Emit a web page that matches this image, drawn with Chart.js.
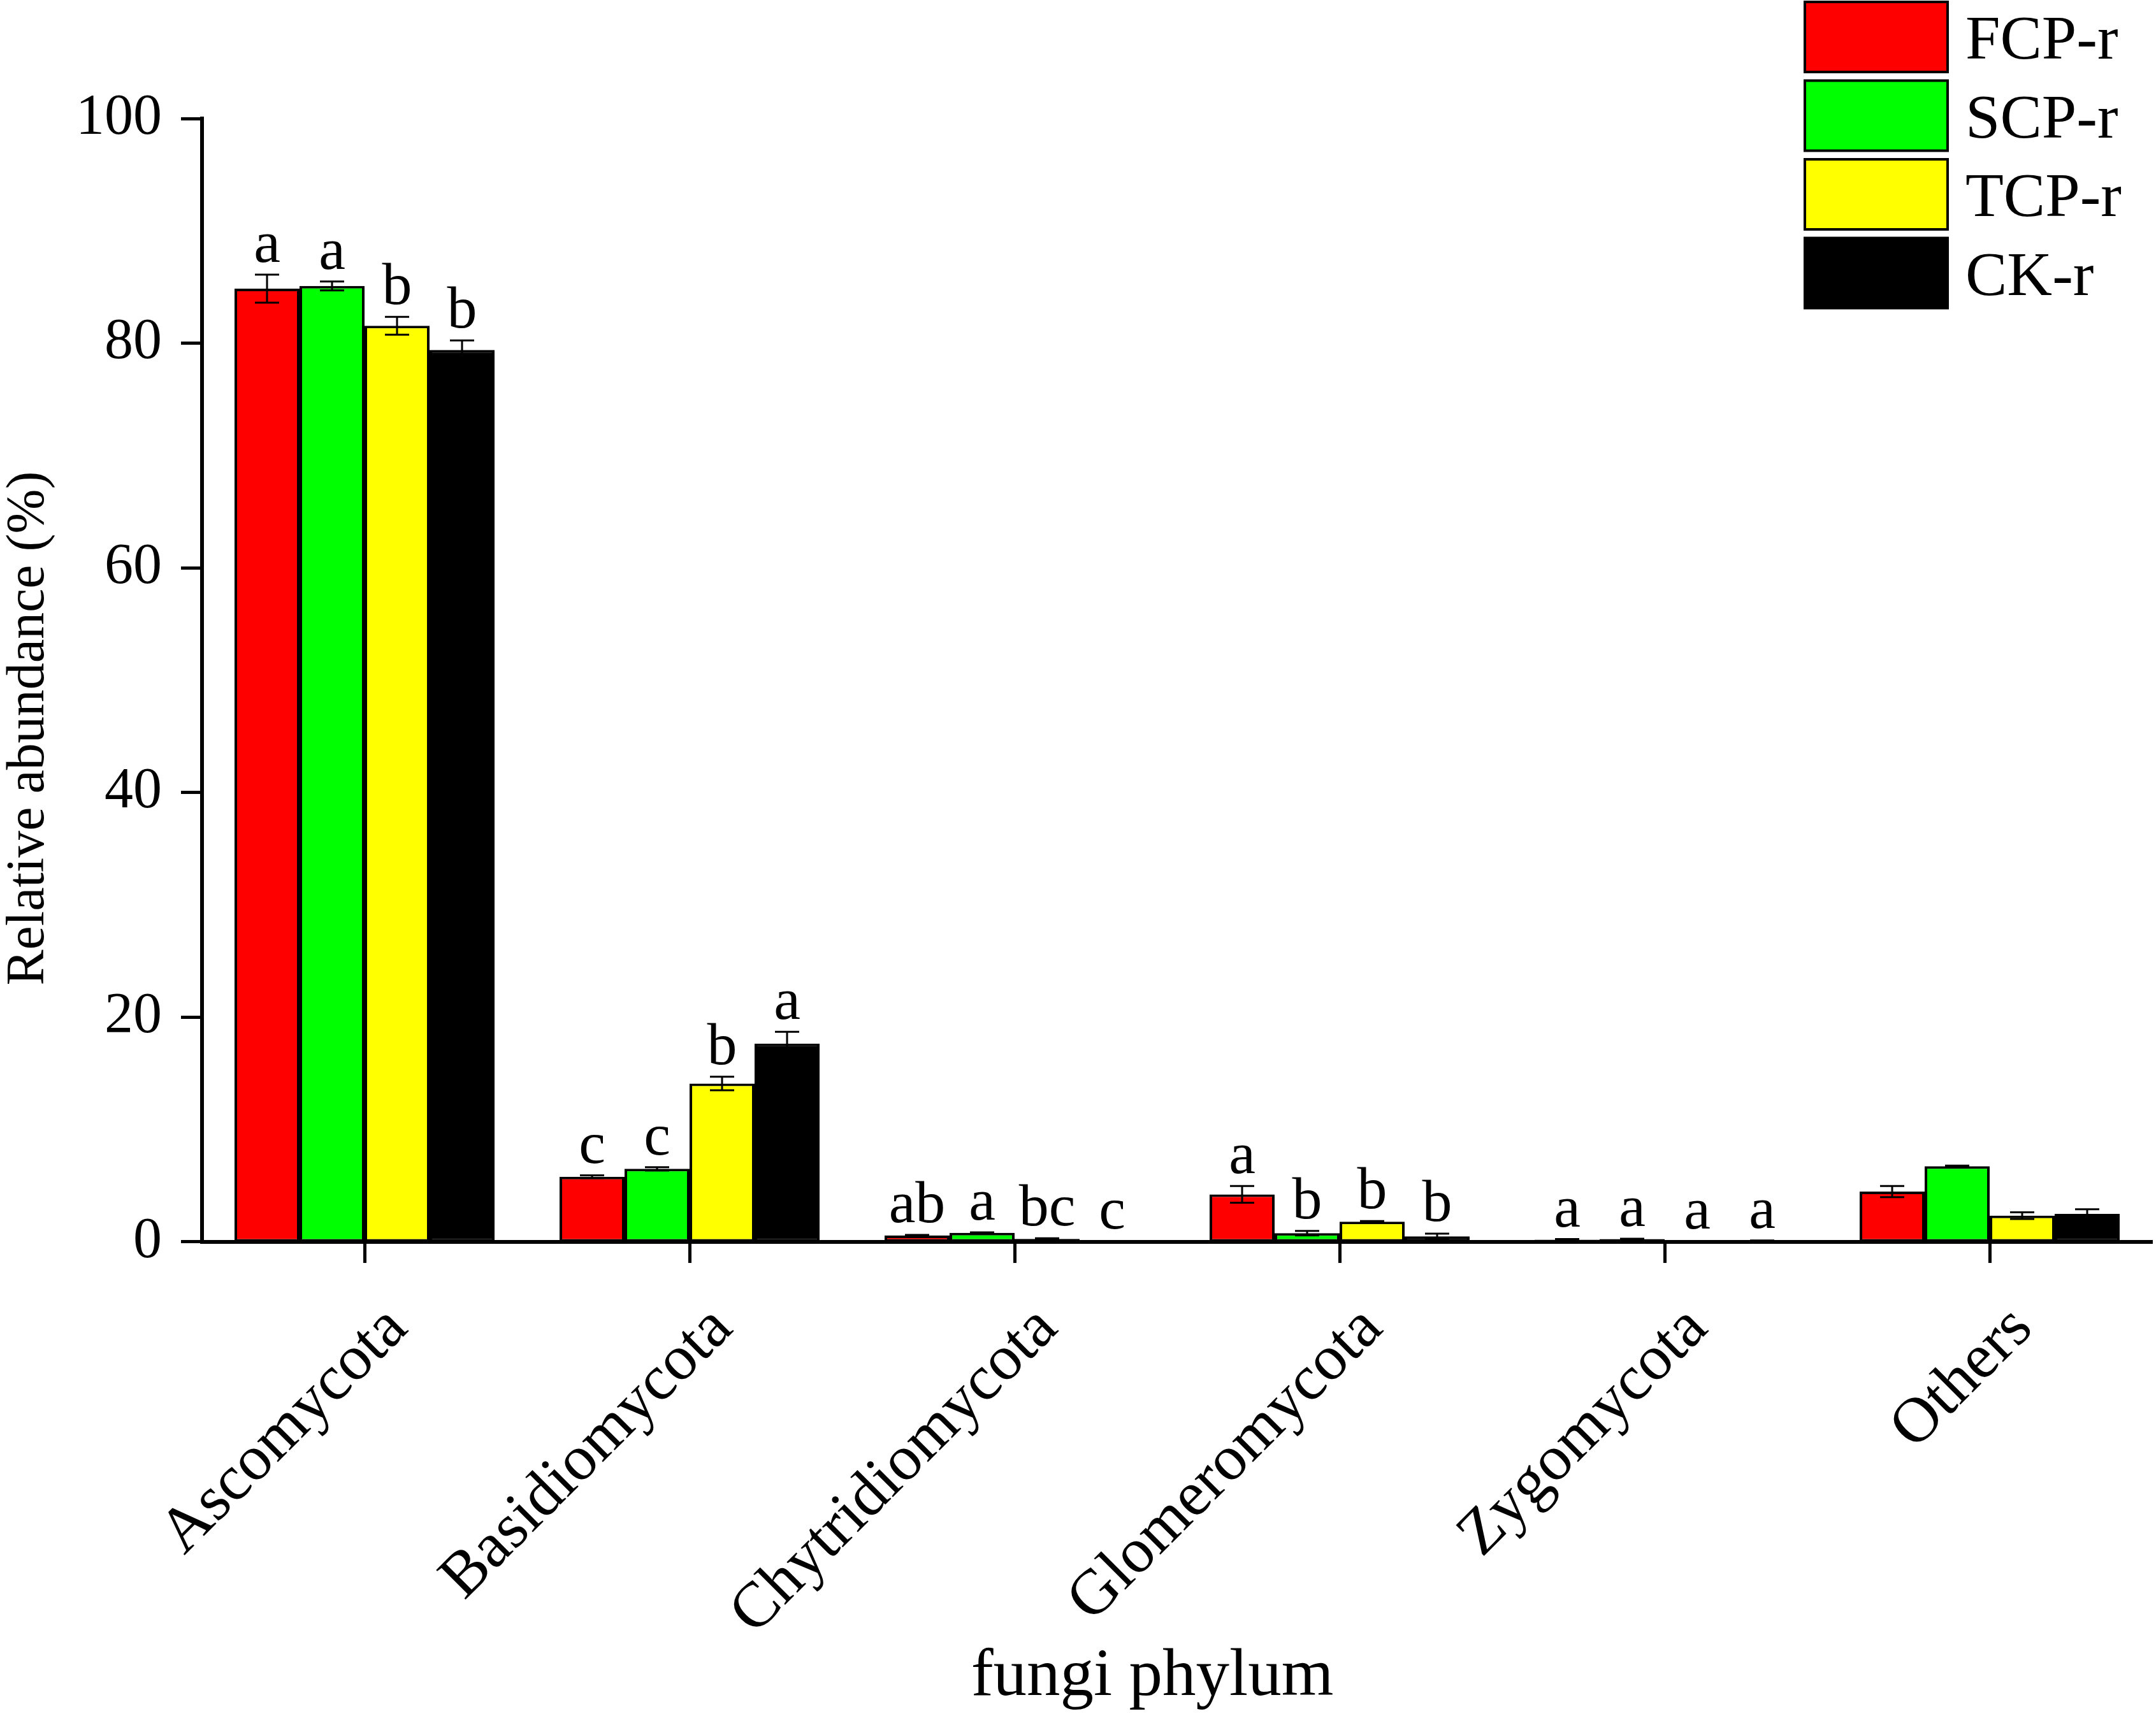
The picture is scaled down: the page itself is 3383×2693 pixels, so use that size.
<!DOCTYPE html>
<html lang="en">
  <head>
    <meta charset="UTF-8" />
    <title>Fungi phylum relative abundance</title>
    <script src="https://cdn.jsdelivr.net/npm/chart.js"></script>
    <style>
      html, body {
        margin: 0;
        padding: 0;
        background: #ffffff;
        overflow: hidden;
      }
      canvas {
        display: block;
      }
    </style>
  </head>
  <body>
    <canvas id="myChart" width="3383" height="2693"></canvas>

    <script>
      // categories and series
      var phyla = ["Ascomycota", "Basidiomycota", "Chytridiomycota", "Glomeromycota", "Zygomycota", "Others"];
      var seriesNames = ["FCP-r", "SCP-r", "TCP-r", "CK-r"];
      var seriesColors = ["#ff0000", "#00ff00", "#ffff00", "#000000"];

      var fcpValues = [84.85, 5.8, 0.57, 4.23, 0.2, 4.48];
      var scpValues = [85.1, 6.5, 0.8, 0.78, 0.25, 6.74];
      var tcpValues = [81.55, 14.1, 0.27, 1.8, 0.03, 2.34];
      var ckValues = [79.4, 17.65, 0.05, 0.5, 0.1, 2.49];

      var fcpErrors = [1.25, 0.12, 0.05, 0.75, 0.05, 0.5];
      var scpErrors = [0.4, 0.15, 0.05, 0.2, 0.03, 0.05];
      var tcpErrors = [0.8, 0.6, 0.05, 0.05, 0.02, 0.3];
      var ckErrors = [0.85, 1.05, 0.03, 0.23, 0.03, 0.42];

      // significance letters (none shown for Others)
      var fcpLetters = ["a", "c", "ab", "a", "a", ""];
      var scpLetters = ["a", "c", "a", "b", "a", ""];
      var tcpLetters = ["b", "b", "bc", "b", "a", ""];
      var ckLetters = ["b", "a", "c", "b", "a", ""];

      var yTicks = [0, 20, 40, 60, 80, 100];
      var xTitle = "fungi phylum";
      var yTitle = "Relative abundance (%)";

      var allValues = [fcpValues, scpValues, tcpValues, ckValues];
      var allErrors = [fcpErrors, scpErrors, tcpErrors, ckErrors];
      var allLetters = [fcpLetters, scpLetters, tcpLetters, ckLetters];

      var serif = '"Liberation Serif", "Times New Roman", serif';

      var datasets = [];
      for (var i = 0; i < seriesNames.length; i++) {
        datasets.push({
          label: seriesNames[i],
          data: allValues[i],
          errors: allErrors[i],
          letters: allLetters[i],
          backgroundColor: seriesColors[i],
          borderColor: "#000000",
          borderWidth: 4,
          borderSkipped: false
        });
      }

      // error bars plus letters above them
      var errorBarPlugin = {
        id: "errorBars",
        afterDatasetsDraw: function(chart) {
          var ctx = chart.ctx;
          var yScale = chart.scales.y;
          ctx.save();
          chart.data.datasets.forEach(function(ds, di) {
            var meta = chart.getDatasetMeta(di);
            meta.data.forEach(function(bar, j) {
              var v = ds.data[j];
              var e = ds.errors[j];
              var top = yScale.getPixelForValue(v + e);
              var bottom = yScale.getPixelForValue(Math.max(v - e, 0));
              ctx.strokeStyle = "#000000";
              ctx.lineWidth = 3;
              ctx.beginPath();
              ctx.moveTo(bar.x, top);
              ctx.lineTo(bar.x, bottom);
              ctx.moveTo(bar.x - 19, top);
              ctx.lineTo(bar.x + 19, top);
              ctx.moveTo(bar.x - 19, bottom);
              ctx.lineTo(bar.x + 19, bottom);
              ctx.stroke();

              if (ds.letters[j]) {
                ctx.fillStyle = "#000000";
                ctx.font = "94px " + serif;
                ctx.textAlign = "center";
                ctx.textBaseline = "alphabetic";
                ctx.fillText(ds.letters[j], bar.x, top - 20);
              }
            });
          });
          ctx.restore();
        }
      };

      // boxed legend in the top right corner, axis titles placed like the original
      var legendPlugin = {
        id: "boxLegend",
        afterDraw: function(chart) {
          var ctx = chart.ctx;
          ctx.save();
          chart.data.datasets.forEach(function(ds, i) {
            var bx = 2832;
            var by = 3 + i * 123.5;
            ctx.fillStyle = ds.backgroundColor;
            ctx.fillRect(bx, by, 224, 110);
            ctx.strokeStyle = "#000000";
            ctx.lineWidth = 4;
            ctx.strokeRect(bx, by, 224, 110);
            ctx.fillStyle = "#000000";
            ctx.font = "98px " + serif;
            ctx.textAlign = "left";
            ctx.textBaseline = "alphabetic";
            ctx.fillText(ds.label, 3084, by + 89);
          });

          ctx.fillStyle = "#000000";
          ctx.textAlign = "center";
          ctx.textBaseline = "alphabetic";
          ctx.font = "105px " + serif;
          ctx.fillText(xTitle, 1808, 2660);

          ctx.translate(68, 1143);
          ctx.rotate(-Math.PI / 2);
          ctx.font = "84px " + serif;
          ctx.fillText(yTitle, 0, 0);
          ctx.restore();
        }
      };

      var ctx = document.getElementById("myChart").getContext("2d");
      new Chart(ctx, {
        type: "bar",
        data: {
          labels: phyla,
          datasets: datasets
        },
        options: {
          responsive: false,
          devicePixelRatio: 1,
          animation: false,
          categoryPercentage: 0.8,
          barPercentage: 1.0,
          layout: {
            padding: { top: 186, right: 6, left: 89, bottom: 57 }
          },
          plugins: {
            legend: { display: false },
            tooltip: { enabled: false }
          },
          scales: {
            x: {
              offset: true,
              grid: {
                offset: false,
                drawOnChartArea: false,
                drawTicks: true,
                tickLength: 33,
                tickWidth: 5,
                tickColor: "#000000"
              },
              border: { color: "#000000", width: 6 },
              ticks: {
                minRotation: 45,
                maxRotation: 45,
                padding: 45,
                labelOffset: 52,
                color: "#000000",
                font: { family: serif, size: 100 }
              }
            },
            y: {
              min: 0,
              max: 100,
              afterBuildTicks: function(scale) {
                scale.ticks = yTicks.map(function(v) { return { value: v }; });
              },
              grid: {
                drawOnChartArea: false,
                drawTicks: true,
                tickLength: 33,
                tickWidth: 5,
                tickColor: "#000000"
              },
              border: { color: "#000000", width: 6 },
              ticks: {
                padding: 30,
                color: "#000000",
                font: { family: serif, size: 90 }
              }
            }
          }
        },
        plugins: [errorBarPlugin, legendPlugin]
      });
    </script>
  </body>
</html>
